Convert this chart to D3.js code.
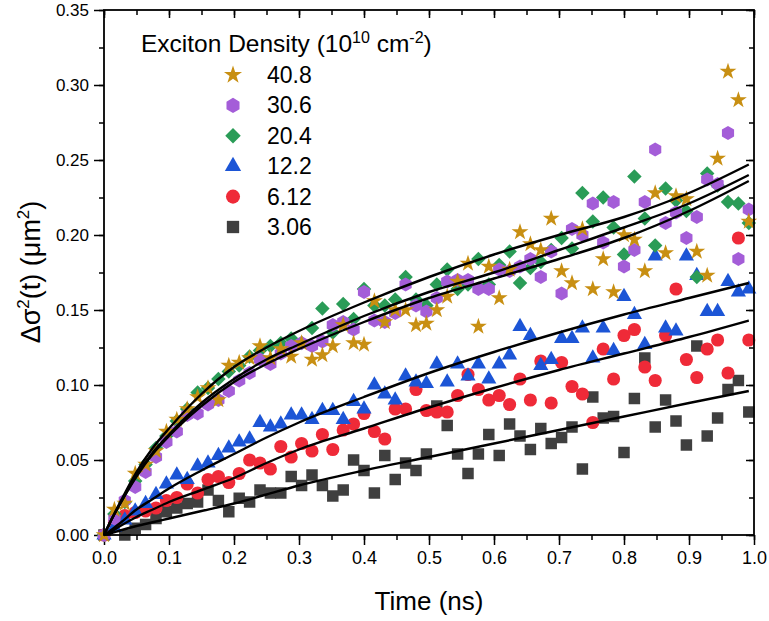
<!DOCTYPE html>
<html>
<head>
<meta charset="utf-8">
<script src="https://cdn.jsdelivr.net/npm/d3@7"></script>
<style>
  body { margin: 0; background: #fff; }
  svg text { font-family: "Liberation Sans", Arial, sans-serif; fill: #000; }
</style>
</head>
<body>
<div id="chart"></div>
<script>
// time grid (ns)
var times = [0, 0.016, 0.032, 0.048, 0.064, 0.08, 0.096, 0.112, 0.128, 0.144, 0.16, 0.176, 0.192, 0.208, 0.224, 0.24,
  0.256, 0.272, 0.288, 0.304, 0.32, 0.336, 0.352, 0.368, 0.384, 0.4, 0.416, 0.432, 0.448, 0.464, 0.48, 0.496,
  0.512, 0.528, 0.544, 0.56, 0.576, 0.592, 0.608, 0.624, 0.64, 0.656, 0.672, 0.688, 0.704, 0.72, 0.736, 0.752,
  0.768, 0.784, 0.8, 0.816, 0.832, 0.848, 0.864, 0.88, 0.896, 0.912, 0.928, 0.944, 0.96, 0.976, 0.992];

var d306 = [0, null, 0, 0.0045, 0.007, 0.011, 0.0155, 0.018, 0.021, 0.022, 0.03, 0.023, 0.0155, 0.0245, 0.022, 0.03,
  0.028, 0.028, 0.039, 0.033, 0.04, 0.033, 0.026, 0.03, 0.05, 0.043, 0.028, 0.053, 0.037, 0.048, 0.043, 0.054,
  0.086, 0.073, 0.054, 0.041, 0.054, 0.067, 0.053, 0.074, 0.066, 0.057, 0.071, 0.061, 0.065, 0.072, 0.044, 0.092,
  0.078, 0.079, 0.055, 0.091, 0.118, 0.072, 0.09, 0.076, 0.06, 0.126, 0.066, 0.078, 0.097, 0.103, 0.082];

var d612 = [0, 0.008, 0.013, 0.015, 0.016, 0.018, 0.023, 0.025, 0.034, 0.028, 0.037, 0.039, 0.035, 0.041, 0.05, 0.048,
  0.044, 0.059, 0.052, 0.061, 0.056, 0.067, 0.057, 0.07, 0.074, 0.081, 0.069, 0.064, 0.084, 0.084, 0.097, 0.083,
  0.082, 0.082, 0.093, 0.107, 0.097, 0.09, 0.093, 0.087, 0.104, 0.09, 0.116, 0.088, 0.115, 0.099, 0.094, 0.075,
  0.124, 0.104, 0.133, 0.137, 0.112, 0.103, 0.133, 0.164, 0.117, 0.105, 0.124, 0.13, 0.108, 0.198, 0.13];

var d122 = [0, 0.005, 0.01, 0.016, 0.021, 0.027, 0.034, 0.04, 0.037, 0.046, 0.048, 0.053, 0.058, 0.062, 0.064, 0.075,
  0.072, 0.074, 0.08, 0.08, 0.077, 0.083, 0.083, 0.077, 0.089, 0.084, 0.1, 0.094, 0.09, 0.106, 0.102, 0.101,
  0.114, 0.102, 0.114, 0.106, 0.114, 0.104, 0.114, 0.12, 0.139, 0.133, 0.113, 0.117, 0.131, 0.131, 0.138, 0.118,
  0.138, 0.123, 0.159, 0.147, 0.127, 0.186, 0.138, 0.136, 0.186, 0.173, 0.149, 0.149, 0.169, 0.162, 0.164];

var d204 = [0, 0.014, 0.022, 0.036, 0.047, 0.058, 0.066, 0.076, 0.084, 0.095, 0.098, 0.104, 0.109, 0.113, 0.119, 0.123,
  0.126, 0.128, 0.131, 0.128, 0.138, 0.151, 0.135, 0.154, 0.144, 0.164, 0.153, 0.153, 0.157, 0.172, 0.157, 0.153,
  0.167, 0.177, 0.164, 0.167, 0.184, 0.167, 0.18, 0.189, 0.168, 0.178, 0.182, 0.19, 0.198, 0.191, 0.228, 0.209,
  0.225, 0.205, 0.187, 0.239, 0.211, 0.193, 0.231, 0.223, 0.216, 0.172, 0.241, 0.233, 0.222, 0.221, 0.208];

var d306b = [0, 0.011, 0.023, 0.032, 0.042, 0.052, 0.062, 0.069, 0.08, 0.081, 0.087, 0.09, 0.096, 0.103, 0.108, 0.117,
  0.114, 0.121, 0.126, 0.128, 0.126, 0.129, 0.14, 0.142, 0.137, 0.162, 0.143, 0.142, 0.148, 0.167, 0.153, 0.149,
  0.158, 0.169, 0.17, 0.17, 0.164, 0.164, 0.177, 0.176, 0.179, 0.184, 0.172, 0.189, 0.161, 0.204, 0.2, 0.221,
  0.195, 0.222, 0.179, 0.19, 0.222, 0.257, 0.208, 0.215, 0.198, 0.212, 0.237, 0.234, 0.268, 0.184, 0.217];

var d408 = [0, 0.017, 0.021, 0.041, 0.047, 0.056, 0.069, 0.077, 0.084, 0.092, 0.098, 0.09, 0.113, 0.115, 0.118, 0.126,
  0.118, 0.124, 0.119, 0.128, 0.117, 0.12, 0.126, 0.14, 0.128, 0.127, 0.156, 0.142, 0.15, 0.15, 0.14, 0.141,
  0.15, 0.159, 0.169, 0.181, 0.139, 0.179, 0.158, 0.177, 0.202, 0.194, 0.19, 0.211, 0.176, 0.168, 0.204, 0.164,
  0.184, 0.162, 0.2, 0.197, 0.176, 0.228, 0.188, 0.226, 0.224, 0.189, 0.173, 0.251, 0.309, 0.29, 0.209];

// fitted curves
var fitT = [0, 0.01, 0.025, 0.05, 0.075, 0.1, 0.15, 0.2, 0.25, 0.3, 0.4, 0.5, 0.6, 0.7, 0.8, 0.9, 0.992];
var fit408 = [0, 0.009, 0.021, 0.04, 0.055, 0.067, 0.088, 0.104, 0.117, 0.127, 0.146, 0.162, 0.175, 0.19, 0.205, 0.221, 0.24];
var fit306 = [0, 0.009, 0.021, 0.039, 0.054, 0.066, 0.086, 0.102, 0.114, 0.124, 0.142, 0.158, 0.171, 0.184, 0.198, 0.216, 0.236];
var fit204 = [0, 0.009, 0.022, 0.042, 0.058, 0.071, 0.094, 0.112, 0.125, 0.136, 0.155, 0.172, 0.187, 0.2, 0.212, 0.228, 0.247];
var fit122 = [0, 0.003, 0.008, 0.017, 0.024, 0.031, 0.043, 0.054, 0.065, 0.075, 0.092, 0.108, 0.122, 0.135, 0.147, 0.158, 0.168];
var fit612 = [0, 0.002, 0.006, 0.012, 0.017, 0.022, 0.03, 0.038, 0.048, 0.057, 0.071, 0.085, 0.098, 0.11, 0.121, 0.132, 0.143];
var fit306g = [0, 0.001, 0.003, 0.006, 0.0085, 0.011, 0.016, 0.021, 0.027, 0.033, 0.043, 0.052, 0.061, 0.07, 0.079, 0.088, 0.096];

var xTicks = [0, 0.1, 0.2, 0.3, 0.4, 0.5, 0.6, 0.7, 0.8, 0.9, 1.0];
var yTicks = [0, 0.05, 0.1, 0.15, 0.2, 0.25, 0.3, 0.35];

(function () {
  var width = 769, height = 621;
  var mLeft = 104, mRight = 754, mTop = 10, mBottom = 535;

  var svg = d3.select("#chart").append("svg")
    .attr("width", width).attr("height", height);

  var x = d3.scaleLinear().domain([0, 1]).range([mLeft, mRight]);
  var y = d3.scaleLinear().domain([0, 0.35]).range([mBottom, mTop]);

  // hexagon marker, pointy top
  var hexagon = {
    draw: function (ctx, size) {
      var r = Math.sqrt(size / 2.598);
      for (var k = 0; k < 6; k++) {
        var a = -Math.PI / 2 + k * Math.PI / 3;
        if (k === 0) ctx.moveTo(r * Math.cos(a), r * Math.sin(a));
        else ctx.lineTo(r * Math.cos(a), r * Math.sin(a));
      }
      ctx.closePath();
    }
  };

  var series = [
    { label: "3.06", data: d306, fit: fit306g, color: "#3f3f3f", sym: d3.symbolSquare, size: 132, rot: 0 },
    { label: "6.12", data: d612, fit: fit612, color: "#ef2a38", sym: d3.symbolCircle, size: 135, rot: 0 },
    { label: "12.2", data: d122, fit: fit122, color: "#1c55d6", sym: d3.symbolTriangle, size: 100, rot: 0 },
    { label: "20.4", data: d204, fit: fit204, color: "#2a9c57", sym: d3.symbolSquare, size: 105, rot: 45 },
    { label: "30.6", data: d306b, fit: fit306, color: "#a45dd8", sym: hexagon, size: 128, rot: 0 },
    { label: "40.8", data: d408, fit: fit408, color: "#c88f12", sym: d3.symbolStar, size: 88, rot: 0 }
  ];

  var xMinor = d3.range(0, 21).map(function (i) { return +(i * 0.05).toFixed(3); });
  var yMinor = d3.range(0, 15).map(function (i) { return +(i * 0.025).toFixed(3); });

  svg.append("g").attr("transform", "translate(0," + mBottom + ")")
    .call(d3.axisBottom(x).tickValues(xMinor).tickSize(5).tickFormat(""));
  svg.append("g").attr("transform", "translate(0," + mBottom + ")")
    .attr("class", "xaxis")
    .call(d3.axisBottom(x).tickValues(xTicks).tickSize(10).tickPadding(6).tickFormat(d3.format(".1f")));
  svg.append("g").attr("transform", "translate(0," + mTop + ")")
    .call(d3.axisBottom(x).tickValues(xMinor).tickSize(5).tickFormat(""));
  svg.append("g").attr("transform", "translate(0," + mTop + ")")
    .call(d3.axisBottom(x).tickValues(xTicks).tickSize(8).tickFormat(""));

  svg.append("g").attr("transform", "translate(" + mLeft + ",0)")
    .call(d3.axisLeft(y).tickValues(yMinor).tickSize(5).tickFormat(""));
  svg.append("g").attr("transform", "translate(" + mLeft + ",0)")
    .attr("class", "yaxis")
    .call(d3.axisLeft(y).tickValues(yTicks).tickSize(10).tickPadding(5).tickFormat(d3.format(".2f")));
  svg.append("g").attr("transform", "translate(" + mRight + ",0)")
    .call(d3.axisLeft(y).tickValues(yMinor).tickSize(5).tickFormat(""));
  svg.append("g").attr("transform", "translate(" + mRight + ",0)")
    .call(d3.axisLeft(y).tickValues(yTicks).tickSize(8).tickFormat(""));

  svg.selectAll(".domain").remove();
  svg.selectAll(".tick line").attr("stroke", "#000").attr("stroke-width", 1.5);
  svg.selectAll(".xaxis text")
    .style("font-size", "18px").style("font-family", "Liberation Sans, Arial, sans-serif");
  svg.selectAll(".yaxis text")
    .style("font-size", "17px").style("font-family", "Liberation Sans, Arial, sans-serif");

  // markers
  series.forEach(function (s) {
    var pts = times.map(function (t, i) { return [t, s.data[i]]; })
      .filter(function (p) { return p[1] !== null; });
    svg.append("g").selectAll("path")
      .data(pts).enter().append("path")
      .attr("d", d3.symbol().type(s.sym).size(s.size))
      .attr("transform", function (p) {
        return "translate(" + x(p[0]) + "," + y(p[1]) + ") rotate(" + s.rot + ")";
      })
      .attr("fill", s.color);
  });

  // fit lines
  var line = d3.line()
    .x(function (p) { return x(p[0]); })
    .y(function (p) { return y(p[1]); })
    .curve(d3.curveMonotoneX);

  series.forEach(function (s) {
    svg.append("path")
      .datum(fitT.map(function (t, i) { return [t, s.fit[i]]; }))
      .attr("d", line)
      .attr("fill", "none")
      .attr("stroke", "#000")
      .attr("stroke-width", 2.4);
  });

  // frame
  svg.append("rect")
    .attr("x", mLeft).attr("y", mTop)
    .attr("width", mRight - mLeft).attr("height", mBottom - mTop)
    .attr("fill", "none").attr("stroke", "#000").attr("stroke-width", 1.8);

  // legend
  var lg = svg.append("g");
  var lt = lg.append("text").attr("x", 141).attr("y", 52).style("font-size", "24.5px");
  lt.append("tspan").text("Exciton Density (10");
  lt.append("tspan").attr("dy", -9).style("font-size", "16px").text("10");
  lt.append("tspan").attr("dy", 9).text(" cm");
  lt.append("tspan").attr("dy", -9).style("font-size", "16px").text("-2");
  lt.append("tspan").attr("dy", 9).text(")");

  series.slice().reverse().forEach(function (s, k) {
    var yy = 75 + k * 30.4;
    lg.append("path")
      .attr("d", d3.symbol().type(s.sym).size(s.size * 1.15))
      .attr("transform", "translate(233," + yy + ") rotate(" + s.rot + ")")
      .attr("fill", s.color);
    lg.append("text").attr("x", 267).attr("y", yy + 8)
      .style("font-size", "23px").text(s.label);
  });

  // axis titles
  svg.append("text").attr("x", (mLeft + mRight) / 2).attr("y", 610)
    .attr("text-anchor", "middle").style("font-size", "26px").text("Time (ns)");

  var yt = svg.append("text")
    .attr("transform", "translate(40,272) rotate(-90)")
    .attr("text-anchor", "middle").style("font-size", "27px");
  yt.append("tspan").text("\u0394\u03c3");
  yt.append("tspan").attr("dy", -11).style("font-size", "17px").text("2");
  yt.append("tspan").attr("dy", 11).text("(t) (\u03bcm");
  yt.append("tspan").attr("dy", -11).style("font-size", "17px").text("2");
  yt.append("tspan").attr("dy", 11).text(")");
})();
</script>
</body>
</html>
